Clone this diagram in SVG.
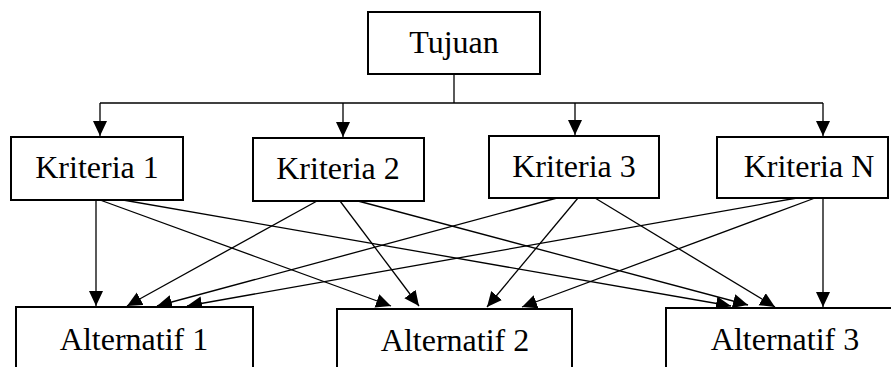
<svg xmlns="http://www.w3.org/2000/svg" width="891" height="367" viewBox="0 0 891 367">
<style>
.box{fill:#fff;stroke:#000;stroke-width:2}
.lbl{font-family:"Liberation Serif","Times New Roman",serif;font-size:32px;fill:#000;text-anchor:middle}
.c{fill:none;stroke:#000;stroke-width:1.3}
.a{marker-end:url(#ah)}
</style>
<defs>
<marker id="ah" markerUnits="userSpaceOnUse" markerWidth="16" markerHeight="16" refX="15" refY="7" orient="auto">
<path d="M0,0 L15,7 L0,14 Z" fill="#000"/>
</marker>
</defs>
<rect width="891" height="367" fill="#fff"/>
<g id="connectors">
<polyline class="c" points="454,74 454,103"/>
<polyline class="c" points="100,103 823,103"/>
<line class="c a" x1="100" y1="103" x2="100" y2="136"/>
<line class="c a" x1="343" y1="103" x2="343" y2="137"/>
<line class="c a" x1="575" y1="103" x2="575" y2="135"/>
<line class="c a" x1="823" y1="103" x2="823" y2="136"/>
<line class="c a" x1="96" y1="200" x2="96" y2="306"/>
<line class="c a" x1="100" y1="200" x2="391" y2="306"/>
<line class="c a" x1="123" y1="200" x2="731" y2="306"/>
<line class="c a" x1="317" y1="201" x2="127" y2="306"/>
<line class="c a" x1="340" y1="201" x2="419" y2="306"/>
<line class="c a" x1="358" y1="201" x2="748" y2="305"/>
<line class="c a" x1="557" y1="198" x2="157" y2="306"/>
<line class="c a" x1="578" y1="198" x2="487" y2="307"/>
<line class="c a" x1="595" y1="198" x2="775" y2="307"/>
<line class="c a" x1="797" y1="198" x2="187" y2="306"/>
<line class="c a" x1="815" y1="198" x2="522" y2="307"/>
<line class="c a" x1="823" y1="198" x2="823" y2="307"/>
</g>
<g id="tujuan"><rect class="box" x="368" y="12" width="172" height="62"/><text class="lbl" x="454" y="53">Tujuan</text></g>
<g id="kriteria1"><rect class="box" x="11" y="137" width="172" height="63"/><text class="lbl" x="97" y="178">Kriteria 1</text></g>
<g id="kriteria2"><rect class="box" x="253" y="138" width="171" height="63"/><text class="lbl" x="338" y="179">Kriteria 2</text></g>
<g id="kriteria3"><rect class="box" x="489" y="136" width="170" height="62"/><text class="lbl" x="574" y="177">Kriteria 3</text></g>
<g id="kriterian"><rect class="box" x="717" y="137" width="171" height="61"/><text class="lbl" x="809" y="177">Kriteria N</text></g>
<g id="alternatif1"><rect class="box" x="16" y="307" width="237" height="80"/><text class="lbl" x="134" y="350">Alternatif 1</text></g>
<g id="alternatif2"><rect class="box" x="337" y="309" width="235" height="80"/><text class="lbl" x="455" y="351">Alternatif 2</text></g>
<g id="alternatif3"><rect class="box" x="666" y="308" width="240" height="80"/><text class="lbl" x="785" y="350">Alternatif 3</text></g>
</svg>
